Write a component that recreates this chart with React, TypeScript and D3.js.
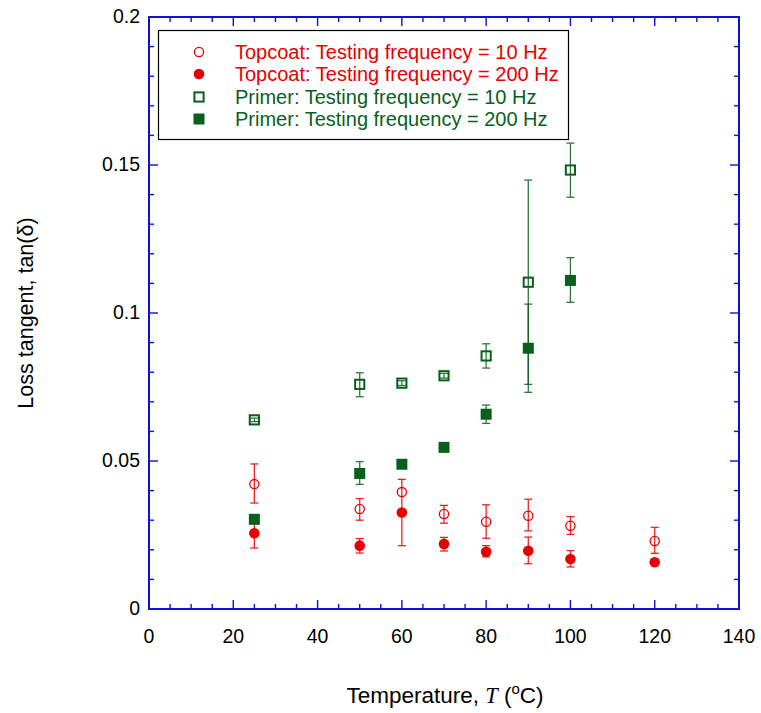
import React, { useEffect, useRef } from "react";
import * as d3 from "d3";

const temps = [25, 50, 60, 70, 80, 90, 100, 120];
const topcoat10 = [0.0422, 0.0338, 0.0395, 0.0321, 0.0295, 0.0315, 0.0281, 0.0230];
const topcoat10Lo = [0.0358, 0.0300, 0.0326, 0.0290, 0.0239, 0.0264, 0.0252, 0.0188];
const topcoat10Hi = [0.0490, 0.0373, 0.0438, 0.0350, 0.0352, 0.0371, 0.0312, 0.0276];
const topcoat200 = [0.0256, 0.0214, 0.0326, 0.0220, 0.0193, 0.0197, 0.0169, 0.0158];
const topcoat200Lo = [0.0206, 0.0189, 0.0214, 0.0196, 0.0176, 0.0153, 0.0142, 0.0148];
const topcoat200Hi = [0.0300, 0.0238, 0.0326, 0.0242, 0.0214, 0.0243, 0.0197, 0.0168];

const primerTemps = [25, 50, 60, 70, 80, 90, 100];
const primer10 = [0.0639, 0.0759, 0.0763, 0.0788, 0.0855, 0.1104, 0.1483];
const primer10Lo = [0.0633, 0.0717, 0.0755, 0.0780, 0.0814, 0.0759, 0.1391];
const primer10Hi = [0.0645, 0.0798, 0.0771, 0.0796, 0.0896, 0.1449, 0.1574];
const primer200 = [0.0303, 0.0458, 0.0489, 0.0546, 0.0658, 0.0881, 0.1110];
const primer200Lo = [0.0297, 0.0421, 0.0483, 0.0540, 0.0627, 0.0732, 0.1036];
const primer200Hi = [0.0309, 0.0498, 0.0495, 0.0552, 0.0689, 0.1030, 0.1187];

const xTicks = [0, 20, 40, 60, 80, 100, 120, 140];
const yTicks = [0, 0.05, 0.1, 0.15, 0.2];
const legendLabels = [
  "Topcoat: Testing frequency = 10 Hz",
  "Topcoat: Testing frequency = 200 Hz",
  "Primer: Testing frequency = 10 Hz",
  "Primer: Testing frequency = 200 Hz",
];

const RED = "#e60000";
const GREEN = "#0a5f1c";
const BLUE = "#1010d8";

export default function App() {
  const ref = useRef<SVGSVGElement | null>(null);

  useEffect(() => {
    const svg = d3.select(ref.current);
    svg.selectAll("*").remove();
    const L = 149, R = 739, T = 17, B = 609;
    const x = d3.scaleLinear().domain([0, 140]).range([L, R]);
    const y = d3.scaleLinear().domain([0, 0.2]).range([B, T]);
    const font = "'Liberation Sans', Arial, sans-serif";

    // ticks (inside, mirrored)
    const g = svg.append("g").attr("stroke", BLUE).attr("stroke-width", 1.4);
    d3.range(0, 141, 5).forEach((v) => {
      const major = v % 20 === 0;
      const len = major ? 9 : 5;
      g.append("line").attr("x1", x(v)).attr("x2", x(v)).attr("y1", B).attr("y2", B - len);
      g.append("line").attr("x1", x(v)).attr("x2", x(v)).attr("y1", T).attr("y2", T + len);
    });
    d3.range(0, 21).forEach((i) => {
      const v = i * 0.01;
      const major = i % 5 === 0;
      const len = major ? 9 : 5;
      g.append("line").attr("x1", L).attr("x2", L + len).attr("y1", y(v)).attr("y2", y(v));
      g.append("line").attr("x1", R).attr("x2", R - len).attr("y1", y(v)).attr("y2", y(v));
    });
    svg.append("rect").attr("x", L).attr("y", T).attr("width", R - L).attr("height", B - T)
      .attr("fill", "none").attr("stroke", BLUE).attr("stroke-width", 2);

    // tick labels
    xTicks.forEach((v) => {
      svg.append("text").attr("x", x(v)).attr("y", 643).attr("text-anchor", "middle")
        .attr("font-family", font).attr("font-size", 19.5).text(String(v));
    });
    yTicks.forEach((v) => {
      svg.append("text").attr("x", 140).attr("y", y(v) + 6).attr("text-anchor", "end")
        .attr("font-family", font).attr("font-size", 19.5).text(String(v));
    });

    // axis titles
    const xt = svg.append("text").attr("x", 445).attr("y", 703).attr("text-anchor", "middle")
      .attr("font-family", font).attr("font-size", 22.5);
    xt.append("tspan").text("Temperature, ");
    xt.append("tspan").attr("font-family", "'Liberation Serif', serif").attr("font-style", "italic").text("T");
    xt.append("tspan").text(" (");
    xt.append("tspan").attr("font-size", 15).attr("dy", -9).text("o");
    xt.append("tspan").attr("dy", 9).text("C)");

    svg.append("text").attr("transform", `translate(33,${(T + B) / 2}) rotate(-90)`)
      .attr("text-anchor", "middle").attr("font-family", font).attr("font-size", 21.5)
      .text("Loss tangent, tan(δ)");

    // error bars
    const drawErr = (xs: number[], lo: number[], hi: number[], color: string) => {
      const eg = svg.append("g").attr("stroke", color).attr("stroke-width", 1.3).attr("opacity", 0.85);
      xs.forEach((t, i) => {
        const cx = x(t);
        eg.append("line").attr("x1", cx).attr("x2", cx).attr("y1", y(lo[i])).attr("y2", y(hi[i]));
        eg.append("line").attr("x1", cx - 4).attr("x2", cx + 4).attr("y1", y(lo[i])).attr("y2", y(lo[i]));
        eg.append("line").attr("x1", cx - 4).attr("x2", cx + 4).attr("y1", y(hi[i])).attr("y2", y(hi[i]));
      });
    };
    drawErr(temps, topcoat10Lo, topcoat10Hi, RED);
    drawErr(temps, topcoat200Lo, topcoat200Hi, RED);
    drawErr(primerTemps, primer10Lo, primer10Hi, GREEN);
    drawErr(primerTemps, primer200Lo, primer200Hi, GREEN);

    // markers
    const openCircle = (cx: number, cy: number) =>
      svg.append("circle").attr("cx", cx).attr("cy", cy).attr("r", 4.6)
        .attr("fill", "none").attr("stroke", RED).attr("stroke-width", 1.3);
    const fillCircle = (cx: number, cy: number) =>
      svg.append("circle").attr("cx", cx).attr("cy", cy).attr("r", 5.3).attr("fill", RED);
    const openSquare = (cx: number, cy: number) =>
      svg.append("rect").attr("x", cx - 4.6).attr("y", cy - 4.6).attr("width", 9.2).attr("height", 9.2)
        .attr("fill", "none").attr("stroke", GREEN).attr("stroke-width", 2);
    const fillSquare = (cx: number, cy: number) =>
      svg.append("rect").attr("x", cx - 5.5).attr("y", cy - 5.5).attr("width", 11).attr("height", 11)
        .attr("fill", GREEN);

    temps.forEach((t, i) => openCircle(x(t), y(topcoat10[i])));
    temps.forEach((t, i) => fillCircle(x(t), y(topcoat200[i])));
    primerTemps.forEach((t, i) => openSquare(x(t), y(primer10[i])));
    primerTemps.forEach((t, i) => fillSquare(x(t), y(primer200[i])));

    // legend
    svg.append("rect").attr("x", 158.5).attr("y", 30.5).attr("width", 410).attr("height", 109)
      .attr("fill", "white").attr("stroke", "black").attr("stroke-width", 1.2);
    const rows = [52, 74, 97, 119];
    const colors = [RED, RED, GREEN, GREEN];
    const mk = [openCircle, fillCircle, openSquare, fillSquare];
    legendLabels.forEach((lab, i) => {
      mk[i](199, rows[i]);
      svg.append("text").attr("x", 235).attr("y", rows[i] + 7).attr("font-family", font)
        .attr("font-size", 20).attr("fill", colors[i]).text(lab);
    });
  }, []);

  return (
    <svg ref={ref} width={761} height={713}
      style={{ position: "absolute", left: 0, top: 0, background: "white" }} />
  );
}
